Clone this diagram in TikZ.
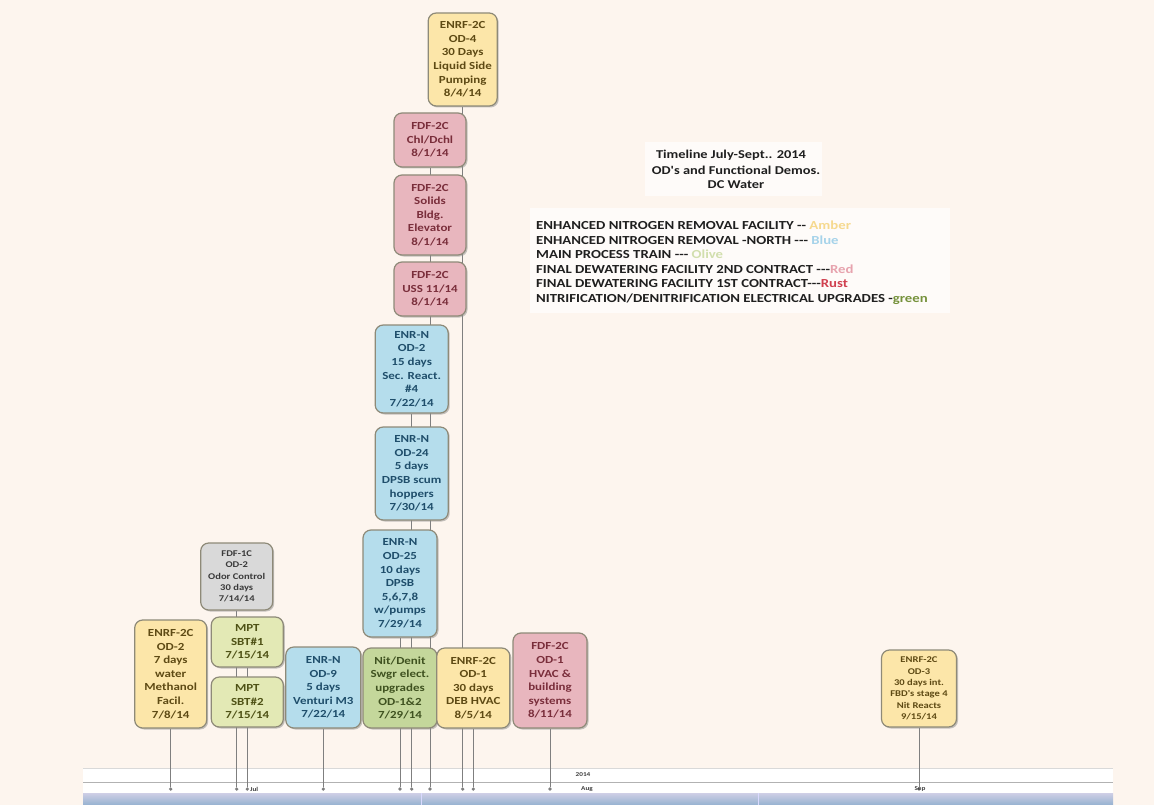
\documentclass[tikz,border=0pt]{standalone}
\usepackage{fontspec}
\setmainfont{Carlito}[FakeStretch=1.2, Ligatures=TeXOff]
\usetikzlibrary{shadows}
\definecolor{bgc}{HTML}{FDF5EE}
\definecolor{amberF}{HTML}{FCE6A9}
\definecolor{amberT}{HTML}{5E4A14}
\definecolor{pinkF}{HTML}{E8B6BE}
\definecolor{pinkT}{HTML}{7A2E3B}
\definecolor{blueF}{HTML}{B5DDEC}
\definecolor{blueT}{HTML}{1F4E6B}
\definecolor{greyF}{HTML}{D9D9D9}
\definecolor{greyT}{HTML}{3A3A3A}
\definecolor{oliveF}{HTML}{E3E9B5}
\definecolor{oliveT}{HTML}{4F5216}
\definecolor{greenF}{HTML}{C4D79B}
\definecolor{greenT}{HTML}{3F5220}
\definecolor{boxB}{HTML}{8E8A78}
\definecolor{lineC}{HTML}{7F7F7F}
\definecolor{legAmber}{HTML}{F6D98E}
\definecolor{legBlue}{HTML}{A6D3EA}
\definecolor{legOlive}{HTML}{D2DFAE}
\definecolor{legRed}{HTML}{E7A3AE}
\definecolor{legRust}{HTML}{D0404F}
\definecolor{legGreen}{HTML}{76923C}
\pgfdeclarelayer{bg}
\pgfdeclarelayer{conn}
\pgfsetlayers{bg,conn,main}
\begin{document}
\begin{tikzpicture}[x=1pt,y=-1pt,
  box/.style={draw=boxB, line width=1.2pt, rounded corners=8pt, align=center, inner sep=1pt,
    font=\bfseries\fontsize{10.8}{13.6}\selectfont,
    drop shadow={shadow xshift=1.5pt, shadow yshift=-1.5pt, fill=black!45, opacity=0.5}},
  smallbox/.style={box, font=\bfseries\fontsize{8.8}{11.3}\selectfont},
  amber/.style={fill=amberF, text=amberT},
  pink/.style={fill=pinkF, text=pinkT},
  blue/.style={fill=blueF, text=blueT},
  grey/.style={fill=greyF, text=greyT},
  olive/.style={fill=oliveF, text=oliveT},
  green/.style={fill=greenF, text=greenT},
  conn/.style={draw=lineC, line width=0.9pt},
  marker/.style={circle, fill=lineC, inner sep=0pt, minimum size=3.6pt},
  axislabel/.style={font=\bfseries\fontsize{6}{7}\selectfont, text=black!75, inner sep=0pt},
  legend/.style={anchor=west, inner sep=0pt, font=\bfseries\fontsize{12.3}{13}\selectfont, text=black!88},
  title/.style={inner sep=0pt, font=\bfseries\fontsize{12}{13}\selectfont, text=black!88}
]
\useasboundingbox (0,0) rectangle (1154,805);
\begin{pgfonlayer}{bg}
  \fill[bgc] (0,0) rectangle (1154,805);
  \fill[white!65!bgc] (645,142) rectangle (822,196);
  \fill[white!65!bgc] (530,208) rectangle (950,313);
  \fill[white] (83,768) rectangle (1113,793);
  \draw[black!15, line width=0.6pt] (83,768) -- (1113,768);
  \draw[black!30, line width=0.8pt] (83,782) -- (1113,782);
  \shade[top color=blue!10!white!90!black, bottom color={rgb,255:red,150;green,178;blue,208}] (83,793) rectangle (1113,805);
  \draw[white!85!blue, line width=0.8pt] (421,793) -- (421,805);
  \draw[white!85!blue, line width=0.8pt] (758,793) -- (758,805);
\end{pgfonlayer}

% axis markers
\node[marker] (m1) at (170.7,789) {};
\node[marker] (m2) at (236.7,789) {};
\node[marker] (m3) at (247.3,789) {};
\node[marker] (m4) at (323.3,789) {};
\node[marker] (m5) at (400,789) {};
\node[marker] (m6) at (411.7,789) {};
\node[marker] (m7) at (430,789) {};
\node[marker] (m8) at (462.7,789) {};
\node[marker] (m9) at (473.3,789) {};
\node[marker] (m10) at (550,789) {};
\node[marker] (m11) at (919,789) {};

\node[axislabel] (y2014) at (583,775) {2014};
\node[axislabel, anchor=west] (jul) at (250,789) {Jul};
\node[axislabel] (aug) at (587,789) {Aug};
\node[axislabel] (sep) at (920,789) {Sep};

% boxes
\node[box, amber, minimum width=69pt, minimum height=93pt] (od4) at (462.7,59.5) {ENRF-2C\\OD-4\\30 Days\\Liquid Side\\Pumping\\8/4/14};
\node[box, pink, minimum width=72pt, minimum height=54pt] (chl) at (430,140) {FDF-2C\\Chl/Dchl\\8/1/14};
\node[box, pink, minimum width=72pt, minimum height=80pt] (sol) at (430,215) {FDF-2C\\Solids\\Bldg.\\Elevator\\8/1/14};
\node[box, pink, minimum width=72pt, minimum height=54pt] (uss) at (430,289) {FDF-2C\\USS 11/14\\8/1/14};
\node[box, blue, minimum width=73pt, minimum height=88pt] (od2n) at (411.7,369) {ENR-N\\OD-2\\15 days\\Sec. React.\\\#4\\7/22/14};
\node[box, blue, minimum width=73pt, minimum height=93pt] (od24) at (411.7,473.5) {ENR-N\\OD-24\\5 days\\DPSB scum\\hoppers\\7/30/14};
\node[box, blue, minimum width=74pt, minimum height=107pt] (od25) at (400,583.5) {ENR-N\\OD-25\\10 days\\DPSB\\5,6,7,8\\w/pumps\\7/29/14};
\node[smallbox, grey, minimum width=72pt, minimum height=67pt] (fdf1c) at (236.7,576.5) {FDF-1C\\OD-2\\Odor Control\\30 days\\7/14/14};
\node[box, amber, minimum width=72pt, minimum height=108pt] (enrfod2) at (170.7,674) {ENRF-2C\\OD-2\\7 days\\water\\Methanol\\Facil.\\7/8/14};
\node[box, olive, minimum width=72pt, minimum height=50pt] (sbt1) at (247.3,642) {MPT\\SBT\#1\\7/15/14};
\node[box, olive, minimum width=72pt, minimum height=50pt] (sbt2) at (247.3,702) {MPT\\SBT\#2\\7/15/14};
\node[box, blue, minimum width=75pt, minimum height=81pt] (od9) at (323.3,687.5) {ENR-N\\OD-9\\5 days\\Venturi M3\\7/22/14};
\node[box, green, minimum width=74pt, minimum height=80pt] (nit) at (400,688) {Nit/Denit\\Swgr elect.\\upgrades\\OD-1\&2\\7/29/14};
\node[box, amber, minimum width=73pt, minimum height=80pt] (enrfod1) at (473.3,688) {ENRF-2C\\OD-1\\30 days\\DEB HVAC\\8/5/14};
\node[box, pink, minimum width=74pt, minimum height=95pt] (fdfod1) at (550,680.5) {FDF-2C\\OD-1\\HVAC \&\\building\\systems\\8/11/14};
\node[smallbox, amber, minimum width=75pt, minimum height=77pt] (od3) at (919,688.5) {ENRF-2C\\OD-3\\30 days int.\\FBD's stage 4\\Nit Reacts\\9/15/14};

% connectors
\begin{pgfonlayer}{conn}
  \draw[conn] (enrfod2.south) -- (m1);
  \draw[conn] (fdf1c.south) -- (m2);
  \draw[conn] (sbt1.south) -- (m3);
  \draw[conn] (od9.south) -- (m4);
  \draw[conn] (od25.south) -- (m5);
  \draw[conn] (od2n.south) -- (m6);
  \draw[conn] (chl.south) -- (m7);
  \draw[conn] (od4.south) -- (m8);
  \draw[conn] (enrfod1.south) -- (m9);
  \draw[conn] (fdfod1.south) -- (m10);
  \draw[conn] (od3.south) -- (m11);
\end{pgfonlayer}

% title and legend
\node[title] (t1) at (731,155) {Timeline July-Sept.. 2014};
\node[title] (t2) at (736,170) {OD's and Functional Demos.};
\node[title] (t3) at (736,185) {DC Water};
\node[legend] (l1) at (536,225) {ENHANCED NITROGEN REMOVAL FACILITY -- \textcolor{legAmber}{Amber}};
\node[legend] (l2) at (536,240) {ENHANCED NITROGEN REMOVAL -NORTH --- \textcolor{legBlue}{Blue}};
\node[legend] (l3) at (536,254) {MAIN PROCESS TRAIN --- \textcolor{legOlive}{Olive}};
\node[legend] (l4) at (536,269) {FINAL DEWATERING FACILITY 2ND CONTRACT ---\textcolor{legRed}{Red}};
\node[legend] (l5) at (536,284) {FINAL DEWATERING FACILITY 1ST CONTRACT---\textcolor{legRust}{Rust}};
\node[legend] (l6) at (536,299) {NITRIFICATION/DENITRIFICATION ELECTRICAL UPGRADES -\textcolor{legGreen}{green}};
\end{tikzpicture}
\end{document}
